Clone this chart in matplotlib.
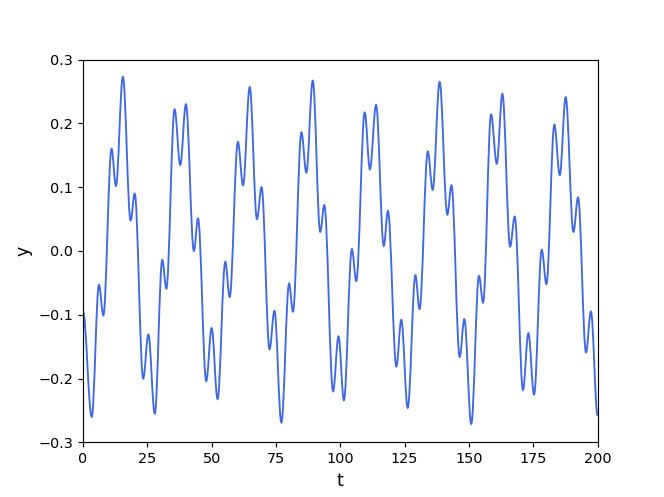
import matplotlib.pyplot as plt
import numpy as np
from matplotlib.path import Path
from matplotlib.patches import PathPatch

# turning points of the signal (t, y)
t_knots = [0.0, 3.4, 6.2, 7.9, 11.1, 12.8, 15.5, 18.5, 20.1, 23.4, 25.4, 27.9,
           30.8, 32.4, 35.6, 37.8, 40.0, 43.1, 44.7, 47.9, 50.0, 52.3, 55.3, 57.0,
           60.2, 62.2, 64.8, 67.6, 69.4, 72.5, 74.4, 77.1, 80.1, 81.6, 84.9, 86.8,
           89.3, 92.2, 93.8, 97.2, 99.3, 101.4, 104.5, 106.2, 109.5, 111.5, 113.9,
           116.9, 118.5, 121.8, 123.7, 126.2, 129.2, 130.8, 134.0, 135.9, 138.6,
           141.6, 143.2, 146.4, 148.2, 150.9, 153.9, 155.5, 158.6, 160.8, 163.0,
           166.0, 167.8, 171.0, 173.1, 175.3, 178.3, 180.1, 183.2, 185.3, 187.6,
           190.6, 192.4, 195.5, 197.4, 200.0]
y_knots = [-0.095, -0.260, -0.053, -0.101, 0.160, 0.102, 0.273, 0.048, 0.090,
           -0.200, -0.131, -0.255, -0.014, -0.059, 0.222, 0.135, 0.230, 0.000,
           0.051, -0.204, -0.121, -0.232, -0.017, -0.072, 0.171, 0.103, 0.257,
           0.050, 0.100, -0.154, -0.094, -0.269, -0.051, -0.095, 0.186, 0.123,
           0.267, 0.030, 0.072, -0.220, -0.134, -0.234, 0.003, -0.047, 0.217,
           0.128, 0.229, 0.008, 0.063, -0.181, -0.108, -0.246, -0.038, -0.091,
           0.156, 0.096, 0.265, 0.057, 0.103, -0.166, -0.107, -0.271, -0.039,
           -0.081, 0.214, 0.137, 0.246, 0.007, 0.054, -0.218, -0.129, -0.225,
           0.002, -0.052, 0.198, 0.119, 0.241, 0.030, 0.084, -0.159, -0.095,
           -0.258]

# smooth curve through the turning points (flat tangent at each one)
k = 0.364
verts = [(t_knots[0], y_knots[0])]
codes = [Path.MOVETO]
for i in range(len(t_knots) - 1):
    t0, y0 = t_knots[i], y_knots[i]
    t1, y1 = t_knots[i + 1], y_knots[i + 1]
    dt = t1 - t0
    verts += [(t0 + k * dt, y0), (t1 - k * dt, y1), (t1, y1)]
    codes += [Path.CURVE4] * 3

fig, ax = plt.subplots(figsize=(6.4, 4.7904), dpi=103.75)
ax.add_patch(PathPatch(Path(verts, codes), facecolor='none',
                       edgecolor='royalblue', lw=1.3))
ax.set_xlim(0, 200)
ax.set_ylim(-0.3, 0.3)
ax.set_xticks(np.arange(0, 201, 25))
ax.set_yticks(np.round(np.arange(-0.3, 0.31, 0.1), 1))
ax.set_xlabel('t', fontsize=12)
ax.set_ylabel('y', fontsize=12)
fig.savefig('out.png')
